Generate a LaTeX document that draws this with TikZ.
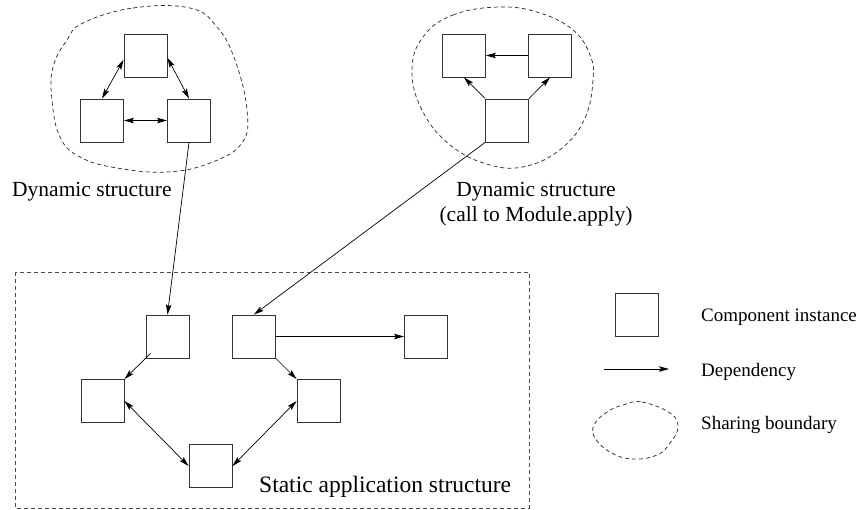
\documentclass[tikz,border=0pt]{standalone}
\usepackage{fontspec}
\setmainfont{Liberation Serif}
\usetikzlibrary{arrows.meta,calc}
\begin{document}
\begin{tikzpicture}[x=1pt,y=-1pt,
  comp/.style={draw=black!80, line width=0.9pt, minimum size=43pt, inner sep=0pt},
  tipst/.style={},
  dep/.style={line width=0.7pt, -{Stealth[length=10pt,width=5.5pt,inset=2pt]}},
  bidep/.style={line width=0.7pt, {Stealth[length=10pt,width=5.5pt,inset=2pt]}-{Stealth[length=10pt,width=5.5pt,inset=2pt]}},
  boundary/.style={draw=black!85, line width=0.7pt, dash pattern=on 4pt off 3pt},
  lbl/.style={inner sep=0pt, anchor=base west},
  dynfont/.style={font=\fontsize{21.5}{26}\selectfont},
  legfont/.style={font=\fontsize{19}{23}\selectfont}]
\useasboundingbox (0,0) rectangle (867,509);

% sharing boundaries
\draw[boundary] plot[smooth cycle, tension=0.7] coordinates {
  (83,23) (133,8) (190,8) (217,27) (235,60) (247,110) (242,143) (210,163)
  (167,172) (117,168) (80,157) (60,137) (52,100) (53,67) (67,40)};
\draw[boundary] plot[smooth cycle, tension=0.7] coordinates {
  (423,37) (453,15) (500,7) (540,13) (573,30) (590,55) (593,80) (585,118)
  (562,148) (527,166) (490,165) (450,145) (422,110) (412,70)};
\draw[boundary, draw=black!70] (15,272) rectangle (529,508);

% left dynamic structure
\node[comp] (lt) at (145.5,55.5) {};
\node[comp] (ll) at (102,120.5) {};
\node[comp] (lr) at (189,120.5) {};

% right dynamic structure
\node[comp] (rl) at (464,55.5) {};
\node[comp] (rr) at (550,55.5) {};
\node[comp] (rb) at (507,120.5) {};

% static structure
\node[comp] (sa) at (167.5,336.5) {};
\node[comp] (sb) at (254,336.5) {};
\node[comp] (sc) at (426,336.5) {};
\node[comp] (sd) at (102.5,401) {};
\node[comp] (se) at (318.5,401) {};
\node[comp] (sf) at (210.5,466) {};

% legend
\node[comp] (lg) at (637,315) {};
\coordinate (la) at (604,369);
\coordinate (lb) at (669,369);
\draw[dep] (la) -- (lb);
\draw[boundary] plot[smooth cycle, tension=0.7] coordinates {
  (623,405) (642,402) (670,413) (678,427) (670,443) (657,455) (632,459)
  (610,452) (595,438) (594,425) (607,412)};

% connectors
\draw[bidep] (ll.north) -- ($(lt.north west)!0.6!(lt.south west)$);
\draw[bidep] ($(lt.north east)!0.55!(lt.south east)$) -- (lr.north);
\draw[bidep] (ll.east) -- (lr.west);
\draw[dep] (lr.south) -- (sa.north);
\draw[dep] (rr.west) -- (rl.east);
\draw[dep] (rb.north west) -- (rl.south);
\draw[dep] (rb.north east) -- (rr.south);
\draw[dep] (rb.south west) -- (sb.north);
\draw[dep] ($(sa.south west)+(5,-5)$) -- (sd.north east);
\draw[dep] (sb.south east) -- (se.north west);
\draw[dep] (sb.east) -- (sc.west);
\draw[bidep] (sd.east) -- (sf.west);
\draw[bidep] (se.west) -- (sf.east);

% labels
\node[lbl, dynfont] (t1) at (12,196) {Dynamic structure};
\node[inner sep=0pt, anchor=base, dynfont] (t2) at (536,196) {Dynamic structure};
\node[inner sep=0pt, anchor=base, dynfont] (t3) at (536,221) {(call to Module.apply)};
\node[lbl, font=\fontsize{23.5}{28}\selectfont] (t4) at (259,492) {Static application structure};
\node[lbl, legfont] (l1) at (701,321) {Component instance};
\node[lbl, legfont] (l2) at (701,376) {Dependency};
\node[lbl, legfont] (l3) at (701,429) {Sharing boundary};
\end{tikzpicture}
\end{document}
